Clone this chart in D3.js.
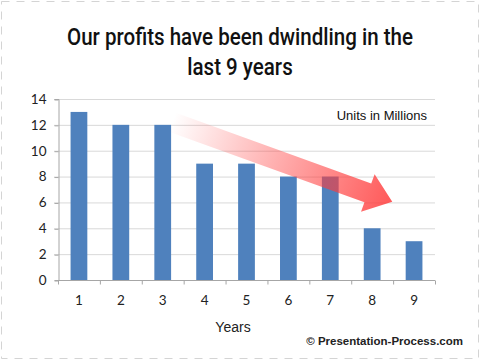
<!DOCTYPE html>
<html>
<head>
<meta charset="utf-8">
<script src="https://cdn.jsdelivr.net/npm/d3@7.9.0/dist/d3.min.js"></script>
<style>
  html, body { margin: 0; padding: 0; background: #fff; }
  svg { display: block; }
</style>
</head>
<body>
<svg id="chart" width="480" height="361"></svg>
<script>
// --- Data ---
const years = ['1', '2', '3', '4', '5', '6', '7', '8', '9'];
const profits = [13, 12, 12, 9, 9, 8, 8, 4, 3];
const yTicks = [0, 2, 4, 6, 8, 10, 12, 14];
const titleLines = ['Our profits have been dwindling in the', 'last 9 years'];

// trend arrow, in chart units (year position, value)
const arrowFrom = { year: 3.23, value: 12.2 };
const arrowTo = { year: 8.48, value: 6.05 };

const svg = d3.select('#chart');
const margin = { left: 58, right: 45, top: 99, bottom: 81 };
const W = 480, H = 361;

// frame
svg.append('rect')
  .attr('x', 1.5).attr('y', 1.5).attr('width', W - 3).attr('height', H - 4)
  .attr('fill', '#fff').attr('stroke', '#d4d4d4').attr('stroke-dasharray', '8,7');

// --- Scales ---
const x = d3.scaleBand().domain(years).range([margin.left, W - margin.right]).paddingInner(0.6).paddingOuter(0.3);
const y = d3.scaleLinear().domain([0, 14]).range([H - margin.bottom, margin.top]);
const step = x.step();
const x0 = margin.left;
const xAt = v => x0 + (v - 0.5) * step;

// gridlines
svg.append('g').selectAll('line').data(yTicks.filter(d => d > 0)).join('line')
  .attr('x1', x0 - 4).attr('x2', W - margin.right)
  .attr('y1', d => y(d) + 0.5).attr('y2', d => y(d) + 0.5)
  .attr('stroke', '#d9d9d9');

// y axis
const yAxis = svg.append('g').attr('transform', `translate(${x0 + 0.5},0)`)
  .call(d3.axisLeft(y).tickValues(yTicks).tickSize(4).tickPadding(8));
yAxis.select('.domain').attr('stroke', '#a6a6a6');
yAxis.selectAll('.tick line').attr('stroke', '#a6a6a6').attr('transform', 'translate(0,0.5)');
yAxis.selectAll('text').attr('font-family', 'Lato, "Open Sans", sans-serif').attr('font-size', 13.5).attr('fill', '#222');

// bars
svg.append('g').selectAll('rect').data(profits).join('rect')
  .attr('x', (d, i) => x(years[i]))
  .attr('y', d => y(d))
  .attr('width', x.bandwidth())
  .attr('height', d => y(0) - y(d))
  .attr('fill', '#4f81bd');

// x axis
const xAxisG = svg.append('g').attr('transform', `translate(0,${y(0) + 0.5})`);
xAxisG.append('line').attr('x1', x0).attr('x2', W - margin.right).attr('stroke', '#a6a6a6');
xAxisG.selectAll('line.tk').data(d3.range(years.length + 1)).join('line')
  .attr('class', 'tk')
  .attr('x1', i => x0 + i * step + 0.5).attr('x2', i => x0 + i * step + 0.5)
  .attr('y1', 0).attr('y2', 4).attr('stroke', '#a6a6a6');
xAxisG.selectAll('text').data(years).join('text')
  .attr('x', d => x(d) + x.bandwidth() / 2)
  .attr('y', 24)
  .attr('text-anchor', 'middle')
  .attr('font-family', 'Lato, "Open Sans", sans-serif').attr('font-size', 13.5).attr('fill', '#222')
  .text(d => d);

// axis title
svg.append('text').attr('x', 233).attr('y', 332).attr('text-anchor', 'middle')
  .attr('font-family', '"Liberation Sans", Arial, sans-serif').attr('font-size', 14).attr('fill', '#222')
  .text('Years');

// units note
svg.append('text').attr('x', 427).attr('y', 120).attr('text-anchor', 'end')
  .attr('font-family', '"Liberation Sans", Arial, sans-serif').attr('font-size', 13).attr('fill', '#111')
  .text('Units in Millions');

// title (condensed look: squeeze a medium-weight face to the reference width)
const titleText = svg.append('g').selectAll('text').data(titleLines).join('text')
  .attr('x', 240).attr('y', (d, i) => 45 + i * 30)
  .attr('text-anchor', 'middle')
  .attr('font-family', 'Roboto, "Liberation Sans", sans-serif')
  .attr('font-size', 24).attr('font-weight', 500).attr('fill', '#111')
  .text(d => d);
const natural = titleText.nodes()[0].getComputedTextLength();
const squeeze = 346 / natural;
titleText.each(function () {
  const w = this.getComputedTextLength();
  d3.select(this).attr('textLength', w * squeeze).attr('lengthAdjust', 'spacingAndGlyphs');
});

// trend arrow
const ax1 = xAt(arrowFrom.year), ay1 = y(arrowFrom.value);
const ax2 = xAt(arrowTo.year), ay2 = y(arrowTo.value);
const len = Math.hypot(ax2 - ax1, ay2 - ay1);
const ang = Math.atan2(ay2 - ay1, ax2 - ax1) * 180 / Math.PI;
const headLen = 26, shaftHalf = 10, headHalf = 20;

const defs = svg.append('defs');
const grad = defs.append('linearGradient').attr('id', 'arrowGrad')
  .attr('gradientUnits', 'userSpaceOnUse').attr('x1', 0).attr('x2', len).attr('y1', 0).attr('y2', 0);
grad.append('stop').attr('offset', 0).attr('stop-color', '#ff3c3c').attr('stop-opacity', 0);
grad.append('stop').attr('offset', 0.4).attr('stop-color', '#ff3c3c').attr('stop-opacity', 0.35);
grad.append('stop').attr('offset', 1).attr('stop-color', '#ff3c3c').attr('stop-opacity', 0.85);

const pts = [
  [0, -shaftHalf], [len - headLen, -shaftHalf], [len - headLen, -headHalf], [len, 0],
  [len - headLen, headHalf], [len - headLen, shaftHalf], [0, shaftHalf]
];
svg.append('path')
  .attr('d', d3.line()(pts) + 'Z')
  .attr('transform', `translate(${ax1},${ay1}) rotate(${ang})`)
  .attr('fill', 'url(#arrowGrad)');

// credit
svg.append('text').attr('x', 463).attr('y', 345).attr('text-anchor', 'end')
  .attr('font-family', '"Liberation Sans", Arial, sans-serif').attr('font-size', 11.5).attr('font-weight', 'bold').attr('fill', '#222')
  .text('© Presentation-Process.com');
</script>
</body>
</html>
